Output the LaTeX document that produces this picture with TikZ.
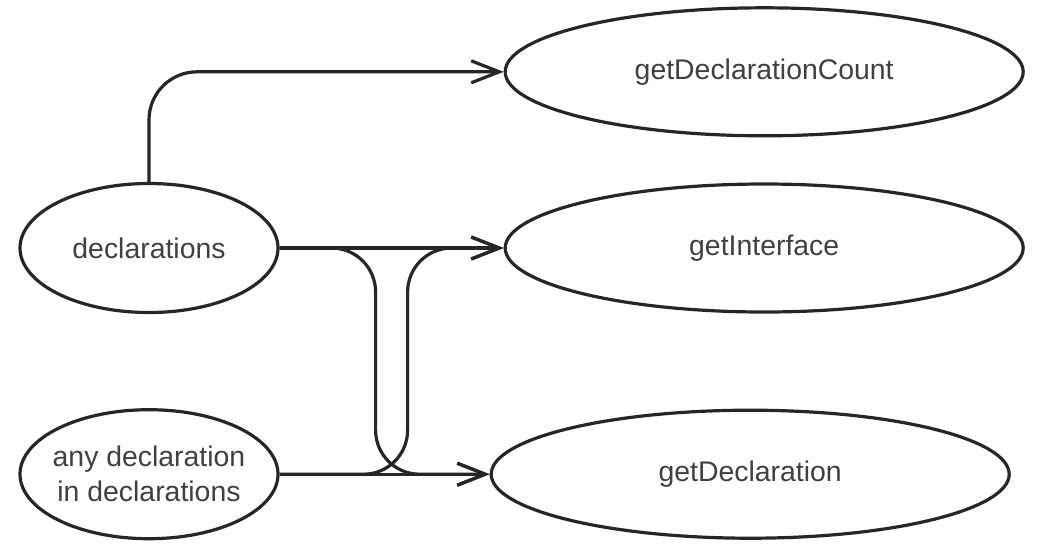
\documentclass[tikz,border=0pt]{standalone}
\usepackage{fontspec}
\setmainfont{Liberation Sans}
\usetikzlibrary{arrows.meta,positioning,shapes.geometric}

\begin{document}
\begin{tikzpicture}[
    x=1pt, y=1pt,
    oval/.style={draw=black!85, ellipse, line width=1.6pt, inner sep=0pt, minimum width=129pt, minimum height=64.5pt, align=center, text=black!75, font=\fontsize{14.2}{17.5}\selectfont},
    bigoval/.style={oval, minimum width=259pt, minimum height=64pt},
    arrow/.style={-{Straight Barb[length=14pt, width=11pt]}, line width=1.6pt, draw=black!85}
  ]
    \useasboundingbox (0,0) rectangle (528.5,-277);
    \node[oval] (decls) at (74.5,-124) {declarations};
    \node[oval, below=47pt of decls, inner xsep=-12pt] (anydecl) {any declaration\\in declarations};
    \node[bigoval, right=112pt of decls] (iface) {getInterface};
    \node[bigoval, above=22.5pt of iface] (count) {getDeclarationCount};
    \node[bigoval, right=105pt of anydecl] (getdecl) {getDeclaration};
    \draw[arrow, rounded corners=24pt] (decls.north) |- (count.west);
    \draw[arrow] (decls) -- (iface);
    \draw[arrow] (anydecl) -- (getdecl);
    \draw[arrow, rounded corners=22pt] (decls.east) -- ++(48pt,0) |- (getdecl.west);
    \draw[arrow, rounded corners=22pt] (anydecl.east) -- ++(64pt,0) |- (iface.west);
  \end{tikzpicture}
\end{document}
